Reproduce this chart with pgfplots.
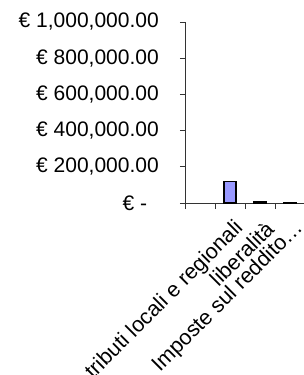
\documentclass[border=0pt]{standalone}
\usepackage{pgfplots}
\pgfplotsset{compat=1.18}
\usepackage{fontspec}
\setmainfont{Liberation Sans}
\definecolor{barblue}{HTML}{9999FF}
\begin{document}
\begin{tikzpicture}
\begin{axis}[
  at={(185pt,172pt)}, anchor=south west,
  scale only axis, width=120pt, height=181pt,
  xmin=-0.5, xmax=3.5, ymin=0, ymax=1000000,
  axis lines=left,
  axis line style={-, black!80, line width=0.8pt},
  clip=false,
  scaled y ticks=false,
  tick align=outside,
  major tick length=5pt,
  ytick={0,200000,400000,600000,800000,1000000},
  yticklabels={{€ -\phantom{0}},{€ 200,000.00},{€ 400,000.00},{€ 600,000.00},{€ 800,000.00},{€ 1,000,000.00}},
  y tick style={draw=black!80, line width=0.8pt},
  yticklabel style={font=\fontsize{21}{24}\selectfont, inner sep=0pt, anchor=east, xshift=-21pt},
  xtick={1,2,3},
  xticklabels={{tributi locali e regionali},{liberalità},{Imposte sul reddito…}},
  x tick style={draw=none},
  xticklabel style={font=\fontsize{21.5}{24}\selectfont, rotate=45, anchor=east, inner sep=1pt, yshift=-19pt, xshift=-4pt},
  extra x ticks={-0.5,0.5,1.5,2.5},
  extra x tick labels={},
  extra x tick style={x tick style={draw=black!80, line width=0.8pt}, major tick length=6pt},
]
\addplot[ybar, bar width=12pt, fill=barblue, draw=black, line width=1.3pt]
  coordinates {(1,120000) (2,10000) (3,3000)};
\end{axis}
\pgfresetboundingbox
\path (0,0) rectangle (303pt,375pt);
\end{tikzpicture}
\end{document}
